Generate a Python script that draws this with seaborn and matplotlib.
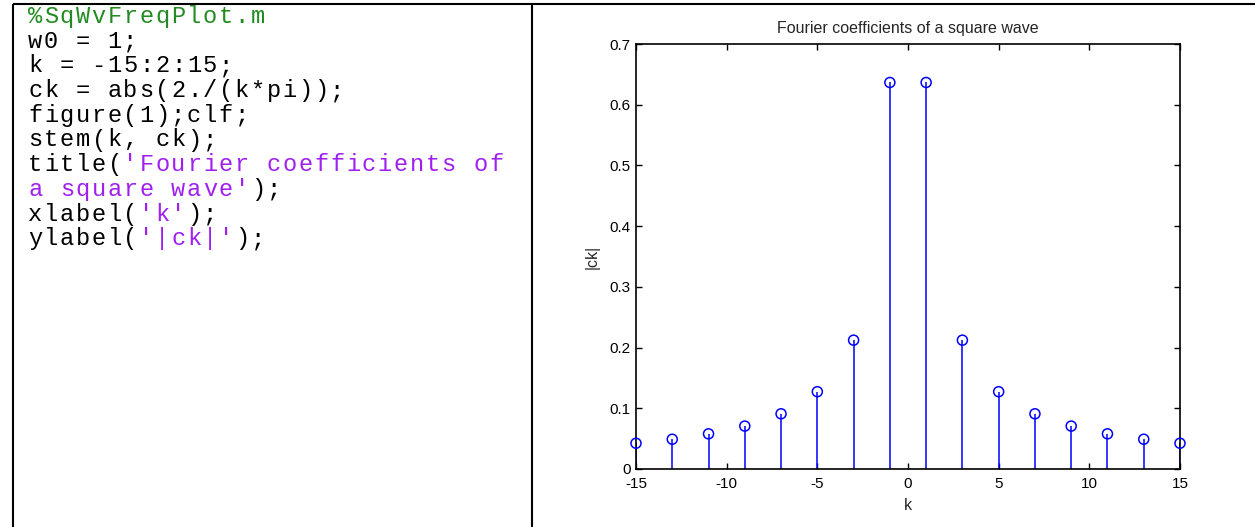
import numpy as np
import pandas as pd
import matplotlib
matplotlib.use("Agg")
import matplotlib.pyplot as plt
import seaborn as sns

# ---- data ----
k_values = [-15, -13, -11, -9, -7, -5, -3, -1, 1, 3, 5, 7, 9, 11, 13, 15]
ck_values = [0.0424, 0.0490, 0.0579, 0.0707, 0.0909, 0.1273, 0.2122, 0.6366,
             0.6366, 0.2122, 0.1273, 0.0909, 0.0707, 0.0579, 0.0490, 0.0424]
x_ticks = [-15, -10, -5, 0, 5, 10, 15]
y_ticks = [0, 0.1, 0.2, 0.3, 0.4, 0.5, 0.6, 0.7]
y_tick_labels = ["0", "0.1", "0.2", "0.3", "0.4", "0.5", "0.6", "0.7"]
title_text = "Fourier coefficients of a square wave"
x_label = "k"
y_label = "|ck|"

K_ = "k"   # plain code colour key
C_ = "c"   # comment colour key
S_ = "s"   # string colour key
code_lines = [
    [("%SqWvFreqPlot.m", C_)],
    [("w0 = 1;", K_)],
    [("k = -15:2:15;", K_)],
    [("ck = abs(2./(k*pi));", K_)],
    [("figure(1);clf;", K_)],
    [("stem(k, ck);", K_)],
    [("title(", K_), ("'Fourier coefficients of", S_)],
    [("a square wave'", S_), (");", K_)],
    [("xlabel(", K_), ("'k'", S_), (");", K_)],
    [("ylabel(", K_), ("'|ck|'", S_), (");", K_)],
]
code_colors = {K_: "#000000", C_: "#228B22", S_: "#A020F0"}

# ---- style ----
sns.set_style("white")
plt.rcParams["font.family"] = ["Liberation Sans", "DejaVu Sans"]
plt.rcParams["axes.unicode_minus"] = False

W, H = 1255, 527
fig = plt.figure(figsize=(W / 100, H / 100), dpi=100)

# background "table" layer in pixel coordinates
bg = fig.add_axes([0, 0, 1, 1])
bg.set_xlim(0, W)
bg.set_ylim(H, 0)
bg.axis("off")
bw = 1.5
bg.plot([13, W], [4, 4], color="black", lw=bw, solid_capstyle="butt")
bg.plot([13, 13], [4, H], color="black", lw=bw, solid_capstyle="butt")
bg.plot([532, 532], [4, H], color="black", lw=bw, solid_capstyle="butt")

# code listing: monospace, Courier-like pitch (glyphs smaller than pitch)
code_pt = 17
adv = 15.9          # character pitch in pixels
x0 = 28
base0 = 23
line_step = 24.7
for i, segs in enumerate(code_lines):
    col = 0
    for txt, key in segs:
        for ch in txt:
            if ch != " ":
                bg.text(x0 + col * adv, base0 + i * line_step, ch,
                        family=["Liberation Mono", "DejaVu Sans Mono"],
                        fontsize=code_pt, color=code_colors[key],
                        va="baseline", ha="left")
            col += 1

# ---- stem plot ----
df = pd.DataFrame({"k": k_values, "ck": ck_values})
left, right, top, bottom = 636, 1180, 44, 469
ax = fig.add_axes([left / W, 1 - bottom / H, (right - left) / W, (bottom - top) / H])
ax.set_facecolor("white")
ax.vlines(df["k"], 0, df["ck"], colors="#0000FF", linewidth=1.1, zorder=2)
sns.scatterplot(data=df, x="k", y="ck", ax=ax, marker="o", s=52,
                facecolors="none", edgecolor="#0000FF", linewidth=1.1,
                zorder=3, clip_on=False, legend=False)

ax.set_xlim(-15, 15)
ax.set_ylim(0, 0.7)
ax.set_xticks(x_ticks)
ax.set_xticklabels([str(v) for v in x_ticks])
ax.set_yticks(y_ticks)
ax.set_yticklabels(y_tick_labels)
for sp in ax.spines.values():
    sp.set_visible(True)
    sp.set_color("black")
    sp.set_linewidth(1.2)
ax.tick_params(direction="in", length=4, width=1, colors="black",
               top=True, right=True, bottom=True, left=True,
               labelsize=11)
ax.tick_params(axis="x", pad=6)
ax.tick_params(axis="y", pad=4)
ax.set_title(title_text, fontsize=11.5, pad=8)
ax.set_xlabel(x_label, fontsize=11.5, labelpad=5)
ax.set_ylabel(y_label, fontsize=11.5, labelpad=7)

fig.savefig("out.png", dpi=100)
